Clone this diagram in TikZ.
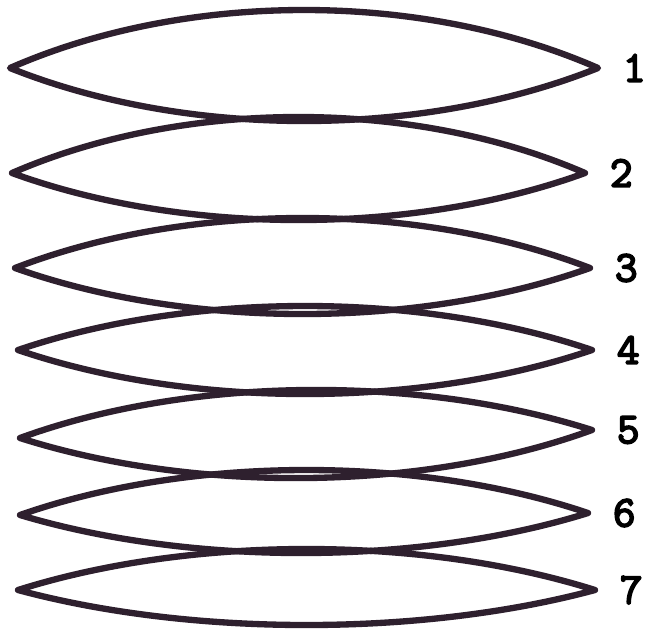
\documentclass[tikz,border=0pt]{standalone}
\usepackage{fontspec}
\newfontfamily\numfont[FakeBold=4]{Latin Modern Mono}
\definecolor{ink}{RGB}{46,32,46}
\tikzset{
  lens/.style={draw=ink, line width=3.6pt, line join=round, line cap=round},
  num/.style={font=\numfont\fontsize{25}{25}\selectfont, text=black, anchor=west, inner sep=0pt}
}
\begin{document}
\begin{tikzpicture}[x=0.02cm, y=-0.02cm]
\useasboundingbox (0,0) rectangle (652,630);
% stacked lenses: left tip, right tip, top and bottom of the bulge
\foreach \n/\xl/\yl/\xr/\yr/\yt/\yb in {1/10/68/598/68/10/121,
    2/12/173/585/173/117/220, 3/15/268/590/268/218/314,
    4/18/350/592/350/306/394, 5/20/438/592/430/390/478,
    6/20/515/588/513/470/553, 7/18/590/595/590/549/625} {
  \pgfmathsetmacro{\ym}{(\yl+\yr)/2}
  \pgfmathsetmacro{\ct}{\ym-(\ym-\yt)*4/3}
  \pgfmathsetmacro{\cb}{\ym+(\yb-\ym)*4/3}
  \pgfmathsetmacro{\xa}{\xl+0.3*(\xr-\xl)}
  \pgfmathsetmacro{\xb}{\xl+0.7*(\xr-\xl)}
  \coordinate (a\n) at (\xl,\yl);
  \coordinate (b\n) at (\xr,\yr);
  \draw[lens] (a\n) .. controls (\xa,\ct) and (\xb,\ct) .. (b\n)
    .. controls (\xb,\cb) and (\xa,\cb) .. (a\n) -- cycle;
  \node[num] (n\n) at ([xshift=14]b\n) {\n};
}
\end{tikzpicture}
\end{document}
